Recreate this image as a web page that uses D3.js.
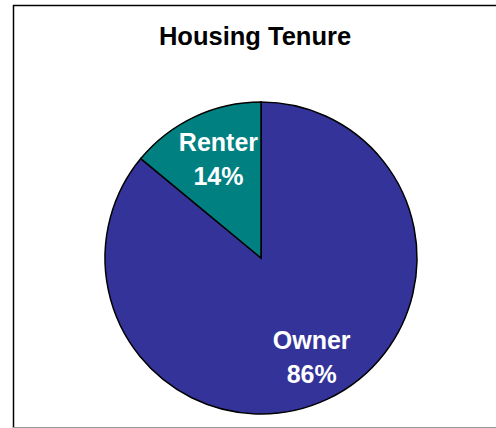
<!DOCTYPE html>
<html>
<head>
<meta charset="utf-8">
<script src="https://cdn.jsdelivr.net/npm/d3@7"></script>
<style>
	body { margin: 0; background: #fff; }
	text { font-family: "Liberation Sans", Arial, sans-serif; font-weight: bold; }
</style>
</head>
<body>
<div id="chart"></div>
<script>
var categories = ["Owner", "Renter"];
var values = [86, 14];
var colors = ["#333399", "#008080"];

var width = 496, height = 428;
var cx = 261, cy = 258, radius = 156;
// label distance from centre, per slice
var labelRadius = [119, 100];

var svg = d3.select("#chart").append("svg")
	.attr("width", width)
	.attr("height", height);

// frame
svg.append("line").attr("x1", 13.5).attr("y1", 5).attr("x2", 13.5).attr("y2", 428)
	.attr("stroke", "#000").attr("stroke-width", 1.5);
svg.append("line").attr("x1", 13).attr("y1", 5.5).attr("x2", 496).attr("y2", 5.5)
	.attr("stroke", "#000").attr("stroke-width", 1.5);
svg.append("line").attr("x1", 13).attr("y1", 427.5).attr("x2", 496).attr("y2", 427.5)
	.attr("stroke", "#999").attr("stroke-width", 1);

svg.append("text")
	.attr("x", 255)
	.attr("y", 45)
	.attr("text-anchor", "middle")
	.style("font-size", "25.5px")
	.attr("fill", "#000")
	.text("Housing Tenure");

var data = categories.map(function(c, i) { return {name: c, value: values[i], idx: i}; });

var pie = d3.pie()
	.sort(null)
	.value(function(d) { return d.value; });

var arc = d3.arc()
	.innerRadius(0)
	.outerRadius(radius);

var g = svg.append("g")
	.attr("transform", "translate(" + cx + "," + cy + ")");

var arcs = pie(data);

g.selectAll("path.slice")
	.data(arcs)
	.enter().append("path")
	.attr("class", "slice")
	.attr("d", arc)
	.attr("fill", function(d) { return colors[d.data.idx]; })
	.attr("stroke", "#000")
	.attr("stroke-width", 1.5);

var labels = g.selectAll("text.label")
	.data(arcs)
	.enter().append("text")
	.attr("class", "label")
	.attr("text-anchor", "middle")
	.attr("fill", "#fff")
	.style("font-size", "25px")
	.attr("transform", function(d) {
		var r = labelRadius[d.data.idx];
		var c = d3.arc().innerRadius(r).outerRadius(r).centroid(d);
		return "translate(" + c[0] + "," + c[1] + ")";
	});

labels.append("tspan")
	.attr("x", 0)
	.attr("dy", -17)
	.text(function(d) { return d.data.name; });
labels.append("tspan")
	.attr("x", 0)
	.attr("dy", 34)
	.text(function(d) { return d.data.value + "%"; });
</script>
</body>
</html>
